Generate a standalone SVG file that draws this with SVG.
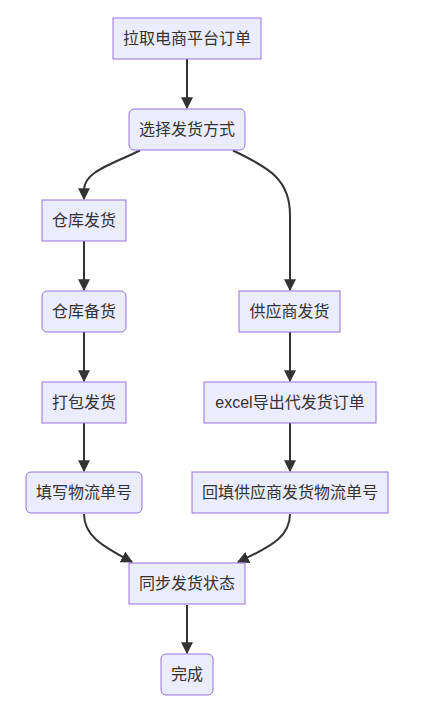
<svg xmlns="http://www.w3.org/2000/svg" width="448" height="728" viewBox="0 0 448 728">
<style>
.node rect{fill:#ECECFF;stroke:#9370DB;stroke-width:1}
.node text{font-family:"Liberation Sans","Noto Sans CJK SC",sans-serif;font-size:16px;fill:#333;text-anchor:middle;dominant-baseline:central}
.edges path{fill:none;stroke:#333;stroke-width:2;marker-end:url(#arrow)}
</style>
<defs>
<marker id="arrow" viewBox="0 0 10 10" refX="9" refY="5" markerUnits="userSpaceOnUse" markerWidth="12" markerHeight="12" orient="auto">
<path d="M0,0 L10,5 L0,10 z" fill="#333"/>
</marker>
</defs>
<rect width="448" height="728" fill="#fff"/>
<g class="edges">
<path d="M187,59 L187,108"/>
<path d="M140,150.5 C110,165 84,172 84,190 L84,199"/>
<path d="M233,150.5 C270,168 290,180 290,215 L290,290"/>
<path d="M84,241 L84,290"/>
<path d="M84,332 L84,381"/>
<path d="M84,423 L84,471"/>
<path d="M290,332 L290,381"/>
<path d="M290,423 L290,471"/>
<path d="M84,514 C84,535 100,545 132,562"/>
<path d="M290,514 C290,535 275,545 238,562"/>
<path d="M187,605 L187,653"/>
</g>
<g id="n1" class="node"><rect x="113" y="18" width="148" height="41"/><text x="187" y="38.5">拉取电商平台订单</text></g>
<g id="n2" class="node"><rect x="129" y="109" width="116" height="41" rx="5"/><text x="187" y="129.5">选择发货方式</text></g>
<g id="n3" class="node"><rect x="42" y="200" width="84" height="41"/><text x="84" y="220.5">仓库发货</text></g>
<g id="n4" class="node"><rect x="42" y="291" width="84" height="41" rx="5"/><text x="84" y="311.5">仓库备货</text></g>
<g id="n5" class="node"><rect x="42" y="382" width="84" height="41"/><text x="84" y="402.5">打包发货</text></g>
<g id="n6" class="node"><rect x="26" y="472" width="116" height="41" rx="5"/><text x="84" y="492.5">填写物流单号</text></g>
<g id="n7" class="node"><rect x="239" y="291" width="101" height="41"/><text x="289.5" y="311.5">供应商发货</text></g>
<g id="n8" class="node"><rect x="204" y="382" width="172" height="41"/><text x="290" y="402.5">excel导出代发货订单</text></g>
<g id="n9" class="node"><rect x="192" y="472" width="196" height="41"/><text x="290" y="492.5">回填供应商发货物流单号</text></g>
<g id="n10" class="node"><rect x="129" y="563" width="116" height="41"/><text x="187" y="583.5">同步发货状态</text></g>
<g id="n11" class="node"><rect x="161" y="654" width="52" height="41" rx="5"/><text x="187" y="674.5">完成</text></g>
</svg>
